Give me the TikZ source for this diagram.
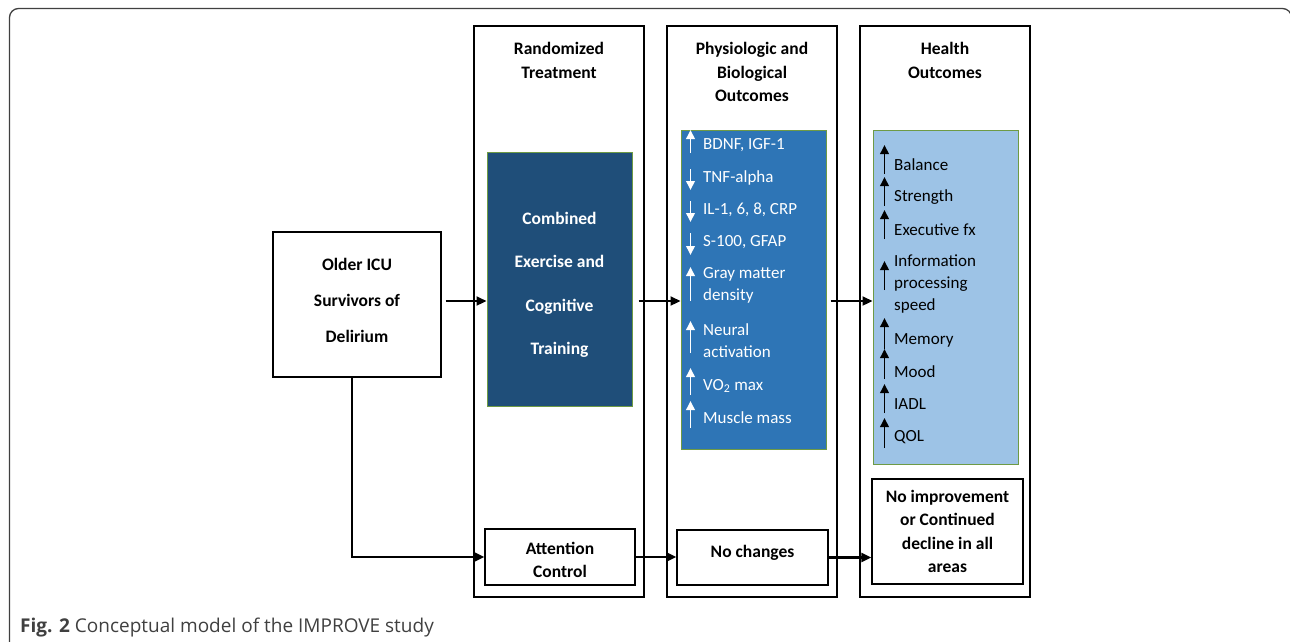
\documentclass[tikz,border=0pt]{standalone}
\usepackage{fontspec}
\setmainfont{Carlito}
\newfontfamily\capfont{Open Sans}
\usetikzlibrary{positioning,arrows.meta}
\definecolor{darkblue}{HTML}{1F4E79}
\definecolor{midblue}{HTML}{2E75B6}
\definecolor{lightblue}{HTML}{9DC3E6}
\definecolor{boxgreen}{HTML}{6E9A45}

\begin{document}
\begin{tikzpicture}[x=1pt, y=-1pt,%
        col/.style={draw, line width=1.3pt, minimum width=170pt, minimum height=571pt, inner sep=0pt},
        box/.style={draw, line width=1.3pt, inner sep=0pt, align=center, font=\bfseries\fontsize{17.5}{23.5}\selectfont},
        fillbox/.style={draw=boxgreen, line width=1pt, inner sep=0pt, minimum width=145pt},
        head/.style={align=center, inner sep=0pt, font=\bfseries\fontsize{17.5}{23.5}\selectfont},
        item/.style={anchor=west, align=left, inner sep=0pt, font=\fontsize{17}{22}\selectfont},
        conn/.style={line width=2.2pt, -{Triangle[length=10pt,width=9pt]}},
        tick/.style={line width=1.9pt, -{Triangle[length=9pt,width=8.5pt]}}]
    \useasboundingbox (0,0) rectangle (1290,641);
    \draw[black!75, line width=1.3pt, rounded corners=9pt] (9.5,8.5) rectangle (1291.5,660);

    % the three columns
    \node[col] (rtcol) at (559,311.5) {};
    \node[col] (pbcol) at (752,311.5) {};
    \node[col] (hocol) at (945,311.5) {};
    \node[head, below=17pt of rtcol.north] (rthead) {Randomized\\Treatment};
    \node[head, below=17pt of pbcol.north] (pbhead) {Physiologic and\\Biological\\Outcomes};
    \node[head, below=17pt of hocol.north] (hohead) {Health\\Outcomes};
    \coordinate (mid) at (0,301);

    % boxes
    \node[box, minimum width=168pt, minimum height=145pt, label={[align=center, yshift=4pt, font=\bfseries\fontsize{17.5}{36}\selectfont]center:Older ICU\\Survivors of\\Delirium}] (older) at (357,304.5) {};
    \node[fillbox, fill=darkblue, minimum height=254pt, label={[text=white, align=center, yshift=-6pt, font=\bfseries\fontsize{17.5}{43.5}\selectfont]center:Combined\\Exercise and\\Cognitive\\Training}] (combo) at (559.5,279) {};
    \node[fillbox, fill=midblue, minimum height=319pt] (pbbox) at (753.5,289.5) {};
    \node[fillbox, fill=lightblue, minimum height=334pt] (hobox) at (945.5,297) {};
    \node[box, minimum width=150pt, minimum height=56pt, label={[align=center, yshift=-3pt, font=\bfseries\fontsize{17.5}{23.5}\selectfont]center:Attention\\Control}] (attn) at (560,557) {};
    \node[box, minimum width=151pt, minimum height=55pt, label={[yshift=5pt, font=\bfseries\fontsize{17.5}{23.5}\selectfont]center:No changes}] (nochg) at (752.5,557.5) {};
    \node[box, minimum width=151pt, minimum height=105pt] (noimp) at (947.5,531.5) {No improvement\\or Continued\\decline in all\\areas};

    % items with their arrows
    \foreach \nm/\yy/\txt/\ya/\yb in {p1/145/{BDNF, IGF-1}/153/130, p2/178/TNF-alpha/169/190, p3/210/{IL-1, 6, 8, CRP}/201/222, p4/242/{S-100, GFAP}/233/255,
            p5/285/{Gray matter\\density}/301/267, p6/341/{Neural\\activation}/353/321, p7/386/VO\textsubscript{2} max/395/368, p8/418/Muscle mass/428/401}{
        \node[item, text=white] (\nm) at (703,\yy) {\txt};
        \draw[tick, white] (690.5,\ya) -- (690.5,\yb);
    }
    \foreach \nm/\yy/\txt/\ya/\yb in {h1/165/Balance/174/145, h2/197/Strength/206/177, h3/230/Executive fx/239/210, h4/284/{Information\\processing\\speed}/290/261,
            h5/340/Memory/349/318, h6/372/Mood/379/349, h7/404/IADL/413/384, h8/437/QOL/448/418}{
        \node[item] (\nm) at (894,\yy) {\txt};
        \draw[tick] (884.5,\ya) -- (884.5,\yb);
    }

    % connectors
    \draw[conn, shorten <=4pt] (older.east |- mid) -- (combo.west |- mid);
    \draw[conn, shorten <=6pt] (combo.east |- mid) -- (pbbox.west |- mid);
    \draw[conn, shorten <=4pt] (pbbox.east |- mid) -- (hobox.west |- mid);
    \draw[conn] ([xshift=-5pt]older.south) |- (attn.west);
    \draw[conn] (attn.east) -- (nochg.west |- attn.east);
    \draw[conn] (nochg.east) -- (noimp.west |- nochg.east);

    \node[anchor=base west, inner sep=0pt, text=black!75, font=\capfont\fontsize{19}{20}\selectfont] (caption) at (20,632) {\textbf{Fig. 2} Conceptual model of the IMPROVE study};
\end{tikzpicture}
\end{document}
